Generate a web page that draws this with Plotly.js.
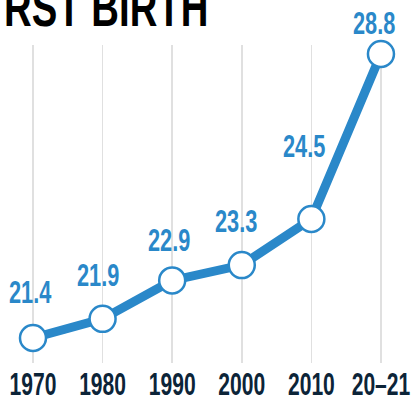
<!DOCTYPE html>
<html>
<head>
<meta charset="utf-8">
<script src="https://cdn.plot.ly/plotly-3.0.1.min.js"></script>
<style>
html,body{margin:0;padding:0;background:#fff;overflow:hidden;}
#chart{width:412px;height:401px;}
</style>
</head>
<body>
<div id="chart"></div>
<script>
// Data
const categories = ['1970', '1980', '1990', '2000', '2010', '20–21'];
const ages = [21.4, 21.9, 22.9, 23.3, 24.5, 28.8];
const titleText = 'RST BIRTH';

// Label placement (style, pixels)
const labelShiftX = [-3, -5, -3, -6, -7, -7];
const labelShiftY = [46, 44, 40, 44, 73, 31];

const BLUE = '#2a88c9';
const NAVY = '#0c2438';
const FONT = '"Liberation Sans", Arial, sans-serif';
const CONDENSE = 0.68;

const trace = {
  x: categories,
  y: ages,
  type: 'scatter',
  mode: 'lines+markers',
  line: {color: BLUE, width: 9},
  marker: {size: 26, color: '#ffffff', line: {color: BLUE, width: 2.5}},
  hoverinfo: 'skip',
  cliponaxis: false
};

const annotations = categories.map((c, i) => ({
  x: i, y: ages[i], xref: 'x', yref: 'y',
  text: ages[i].toFixed(1),
  showarrow: false,
  xanchor: 'center', yanchor: 'middle',
  xshift: labelShiftX[i], yshift: labelShiftY[i],
  font: {family: FONT, size: 32, color: BLUE, weight: 700}
}));

annotations.push({
  xref: 'paper', yref: 'paper',
  x: 0.5, y: 1.02,
  xanchor: 'center', yanchor: 'bottom',
  text: titleText, showarrow: false,
  font: {family: FONT, size: 54, color: '#000000', weight: 700}
});

const layout = {
  width: 412, height: 401,
  margin: {l: 0, r: 0, t: 45, b: 38, pad: 0},
  paper_bgcolor: '#ffffff', plot_bgcolor: '#ffffff',
  showlegend: false,
  xaxis: {
    type: 'category',
    range: [-0.474, 5.446],
    showgrid: true, gridcolor: '#e0e0e0', gridwidth: 1.5,
    zeroline: false, showline: false, ticks: '',
    tickangle: 0, automargin: false,
    tickfont: {family: FONT, size: 31, color: NAVY, weight: 700},
    ticklabelstandoff: 0,
    fixedrange: true
  },
  yaxis: {
    range: [20.749, 29.034],
    showgrid: false, zeroline: false, showline: false,
    showticklabels: false, ticks: '', fixedrange: true, automargin: false
  },
  annotations: annotations
};

function condense(el, s) {
  const bb = el.getBBox();
  const cx = bb.x + bb.width / 2;
  const prev = el.getAttribute('transform') || '';
  el.setAttribute('transform', prev + ' translate(' + cx + ',0) scale(' + s + ',1) translate(' + (-cx) + ',0)');
}

Plotly.newPlot('chart', [trace], layout, {displayModeBar: false, staticPlot: true}).then(gd => {
  gd.querySelectorAll('.xtick text').forEach(t => condense(t, CONDENSE));
  gd.querySelectorAll('.annotation-text-g text').forEach(t => {
    if (t.textContent === titleText) {
      const bb = t.getBBox();
      const prev = t.getAttribute('transform') || '';
      const ctm = t.getScreenCTM();
      const leftScreen = bb.x + (ctm ? ctm.e : 0);
      const target = 4;
      const s = 0.71;
      t.setAttribute('transform', prev + ' translate(' + (target - leftScreen + bb.x) + ',0) scale(' + s + ',1) translate(' + (-bb.x) + ',0)');
    } else {
      condense(t, CONDENSE);
    }
  });
});
</script>
</body>
</html>
